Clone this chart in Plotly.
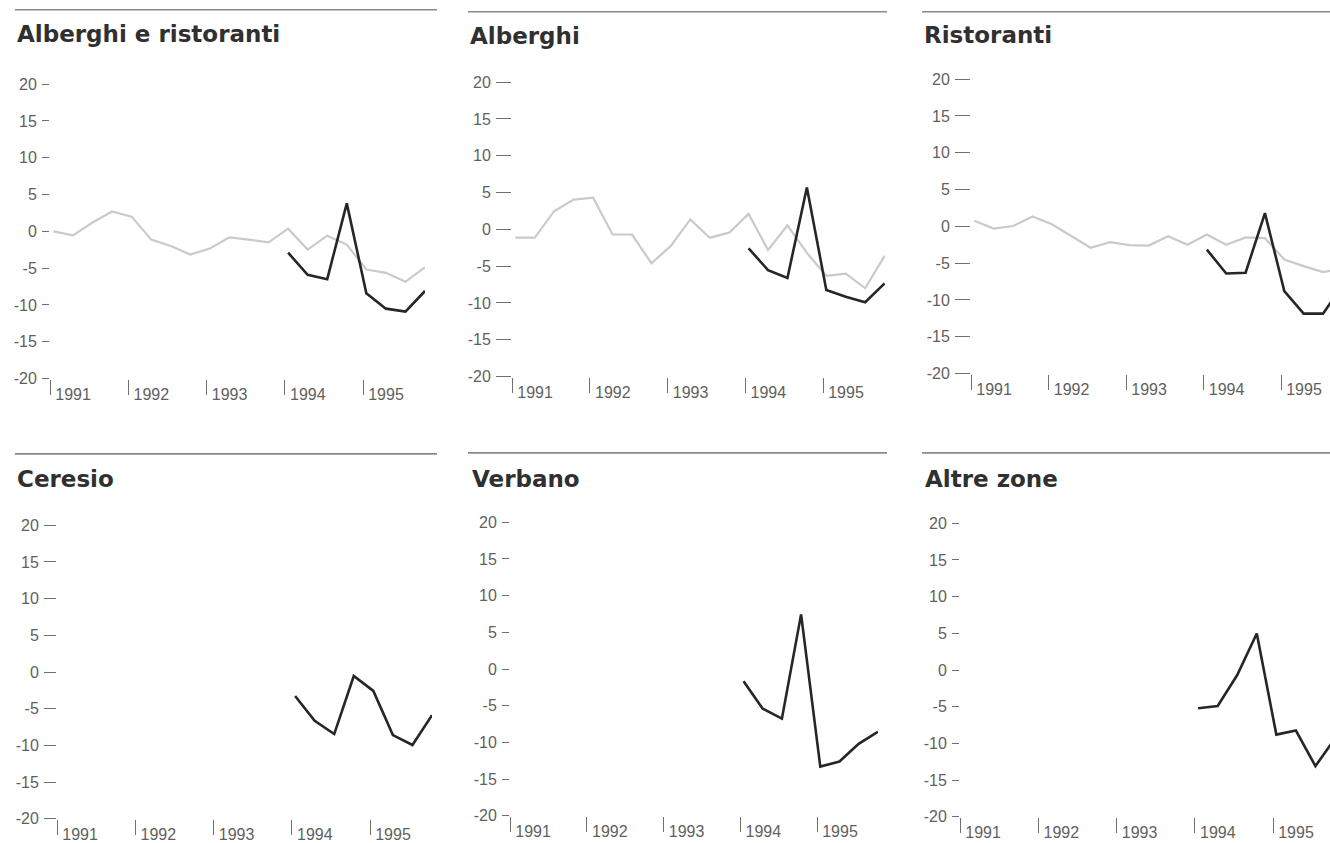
import plotly.graph_objects as go

W, H = 1330, 843

# ---------------- data ----------------
years = ["1991", "1992", "1993", "1994", "1995"]
quarters = list(range(20))          # 1991 Q1 ... 1995 Q4
black_start = 12                    # dark series starts 1994 Q1
y_ticks = [20, 15, 10, 5, 0, -5, -10, -15, -20]
y_tick_labels = ["20", "15", "10", "5", "0", "-5", "-10", "-15", "-20"]

titles = ["Alberghi e ristoranti", "Alberghi", "Ristoranti",
          "Ceresio", "Verbano", "Altre zone"]

gray_alberghi_ristoranti = [0.0, -0.54, 1.2, 2.7, 2.0, -1.13, -2.0, -3.15, -2.34, -0.81,
                            -1.13, -1.49, 0.36, -2.48, -0.59, -1.8, -5.18, -5.63, -6.85, -4.86]
black_alberghi_ristoranti = [-2.9, -5.9, -6.5, 3.8, -8.4, -10.5, -10.9, -8.1]

gray_alberghi = [-1.13, -1.13, 2.5, 4.05, 4.3, -0.7, -0.7, -4.6, -2.25, 1.35,
                 -1.13, -0.45, 2.1, -2.8, 0.54, -3.2, -6.3, -6.0, -8.0, -3.6]
black_alberghi = [-2.57, -5.54, -6.6, 5.7, -8.24, -9.14, -9.9, -7.34]

gray_ristoranti = [0.77, -0.3, 0.05, 1.35, 0.3, -1.35, -2.9, -2.15, -2.55, -2.6,
                   -1.35, -2.5, -1.1, -2.5, -1.5, -1.6, -4.5, -5.4, -6.2, -5.8]
black_ristoranti = [-3.15, -6.4, -6.3, 1.8, -8.8, -11.85, -11.85, -8.0]

black_ceresio = [-3.26, -6.65, -8.46, -0.54, -2.58, -8.6, -9.95, -5.88]
black_verbano = [-1.67, -5.4, -6.76, 7.45, -13.3, -12.6, -10.2, -8.56]
black_altre_zone = [-5.2, -4.9, -0.68, 4.97, -8.8, -8.25, -13.1, -9.3]

gray_series = [gray_alberghi_ristoranti, gray_alberghi, gray_ristoranti, None, None, None]
black_series = [black_alberghi_ristoranti, black_alberghi, black_ristoranti,
                black_ceresio, black_verbano, black_altre_zone]

# ---------------- layout geometry (pixels) ----------------
panels = [
    dict(x91=50,  x95=363,  xr=425,  yt=85,  yb=382, tl=7,  tx=15,  ty=34,  ry=10,  rx0=15,  rx1=437),
    dict(x91=512, x95=823,  xr=885,  yt=83,  yb=380, tl=15, tx=468, ty=36,  ry=12,  rx0=468, rx1=887),
    dict(x91=971, x95=1281, xr=1330, yt=80,  yb=377, tl=15, tx=922, ty=35,  ry=12,  rx0=922, rx1=1330),
    dict(x91=57,  x95=370,  xr=432,  yt=530, yb=826, tl=12, tx=15,  ty=483, ry=458, rx0=15,  rx1=437),
    dict(x91=510, x95=817,  xr=878,  yt=527, yb=823, tl=7,  tx=470, ty=483, ry=457, rx0=468, rx1=887),
    dict(x91=960, x95=1273, xr=1330, yt=528, yb=824, tl=7,  tx=923, ty=483, ry=457, rx0=922, rx1=1330),
]

# observed vertical mapping of the capture: shown_y = 8.2 + 0.98 * page_y
V_OFF, V_SCALE = 8.2, 0.98

def fx(p):
    return p / W

def fy(p):
    return 1 - ((p - V_OFF) / V_SCALE) / H

TICK_FONT = dict(family="Liberation Sans Narrow, Arial Narrow, Liberation Sans, sans-serif",
                 size=16, color="#5f5f5f")
TITLE_FONT = dict(family="DejaVu Sans, Arial, sans-serif", size=23, color="#303030", weight="bold")

fig = go.Figure()
shapes = []
annotations = []

for i, p in enumerate(panels):
    n = "" if i == 0 else str(i + 1)
    xa, ya = "x" + n, "y" + n
    ppq = (p["x95"] - p["x91"]) / 16.0
    off = 0.17
    r0 = -off - 0.005
    r1 = -off + (p["xr"] - p["x91"]) / ppq

    g = gray_series[i]
    if g is not None:
        fig.add_trace(go.Scatter(x=quarters, y=g, mode="lines",
                                 line=dict(color="#cacaca", width=2.2),
                                 xaxis=xa, yaxis=ya, showlegend=False, hoverinfo="skip"))
    b = black_series[i]
    fig.add_trace(go.Scatter(x=quarters[black_start:black_start + len(b)], y=b, mode="lines",
                             line=dict(color="#262626", width=2.6),
                             xaxis=xa, yaxis=ya, showlegend=False, hoverinfo="skip"))

    xkey = "xaxis" + n
    ykey = "yaxis" + n
    fig.layout[xkey] = dict(
        domain=[fx(p["x91"]), fx(p["xr"])], anchor=ya, range=[r0, r1],
        tickmode="array", tickvals=[4 * k - off for k in range(len(years))], ticktext=years,
        ticks="outside", ticklen=15, tickwidth=1.3, tickcolor="#6f6f6f",
        tickfont=TICK_FONT, ticklabelshift=23, ticklabelstandoff=-14,
        showline=False, showgrid=False, zeroline=False, fixedrange=True)
    fig.layout[ykey] = dict(
        domain=[fy(p["yb"]), fy(p["yt"])], anchor=xa, range=[-20, 20],
        tickmode="array", tickvals=y_ticks, ticktext=y_tick_labels,
        ticks="outside", ticklen=p["tl"], tickwidth=1.3, tickcolor="#6f6f6f",
        tickfont=TICK_FONT, ticklabelstandoff=2,
        showline=False, showgrid=False, zeroline=False, fixedrange=True)

    shapes.append(dict(type="line", xref="paper", yref="paper",
                       x0=fx(p["rx0"]), x1=fx(p["rx1"]), y0=fy(p["ry"]), y1=fy(p["ry"]),
                       line=dict(color="#8a8a8a", width=1.6)))
    annotations.append(dict(text=titles[i], xref="paper", yref="paper",
                            x=fx(p["tx"]), y=fy(p["ty"]), xanchor="left", yanchor="middle",
                            showarrow=False, font=TITLE_FONT))

fig.update_layout(width=W, height=H, margin=dict(l=0, r=0, t=0, b=0),
                  paper_bgcolor="white", plot_bgcolor="white",
                  shapes=shapes, annotations=annotations, showlegend=False)

fig.write_html("out.html", config={"displayModeBar": False},
               post_script="document.body.style.margin='0';document.body.style.overflow='hidden';")
